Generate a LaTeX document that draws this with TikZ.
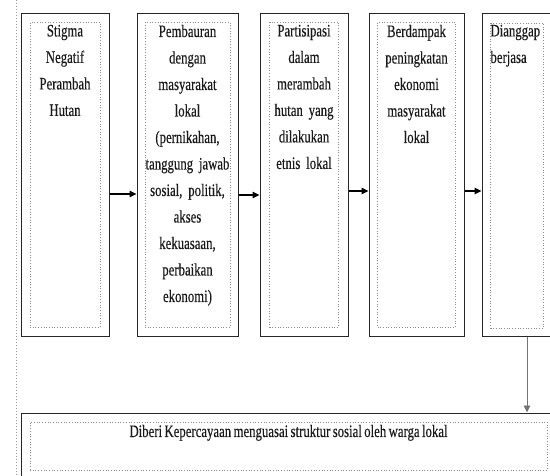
\documentclass[tikz,border=0pt]{standalone}
\usepackage{fontspec}
\setmainfont[FakeStretch=0.73,WordSpace=0.75,FakeBold=0.3]{Liberation Serif}
\usetikzlibrary{arrows.meta,positioning}

\begin{document}
\begin{tikzpicture}
  [x=1pt,y=-1pt,
   outerN/.style={rectangle,draw=black!85,line width=1pt,inner sep=0pt,minimum height=323pt},
   innerN/.style={rectangle,draw=black!45,dotted,line width=0.7pt,inner sep=0pt,minimum height=305pt},
   textN/.style={inner sep=0pt,anchor=north,align=center,text=black!90,font=\fontsize{17.5}{26.5}\selectfont},
   arr/.style={line width=1.1pt,-{Triangle[length=7pt,width=6.5pt]}}]

  \useasboundingbox (0,0) rectangle (550,475);
  \draw [black!40,dotted,line width=1pt] (16,0) -- (16,475);

  % five boxes in a row
  \node[outerN,minimum width=88pt] (b1) at (65,174.5) {};
  \node[outerN,minimum width=101pt] (b2) [right=27pt of b1] {};
  \node[outerN,minimum width=88pt] (b3) [right=21pt of b2] {};
  \node[outerN,minimum width=95pt] (b4) [right=20pt of b3] {};
  \node[outerN,minimum width=70pt] (b5) [right=17pt of b4] {};

  \node[innerN,minimum width=70pt] (b1i) at (b1.center) {};
  \node[innerN,minimum width=85pt] (b2i) at (b2.center) {};
  \node[innerN,minimum width=69pt] (b3i) at (b3.center) {};
  \node[innerN,minimum width=78pt] (b4i) at (b4.center) {};
  \node[innerN,minimum width=53pt] (b5i) at ([yshift=-1pt]b5.center) {};

  \node[textN,text width=70pt] (t1) at ([yshift=-3pt]b1i.north)
    {Stigma\\ Negatif\\ Perambah\\ Hutan};
  \node[textN,text width=85pt] (t2) at ([yshift=-3pt]b2i.north)
    {Pembauran\\ dengan\\ masyarakat\\ lokal\\ (pernikahan,\\ tanggung jawab\\ sosial, politik,\\ akses\\ kekuasaan,\\ perbaikan\\ ekonomi)};
  \node[textN,text width=69pt] (t3) at ([yshift=-3pt]b3i.north)
    {Partisipasi\\ dalam\\ merambah\\ hutan yang\\ dilakukan\\ etnis lokal};
  \node[textN,text width=78pt] (t4) at ([yshift=-3pt]b4i.north)
    {Berdampak\\ peningkatan\\ ekonomi\\ masyarakat\\ lokal};
  \node[textN,text width=53pt,align=left] (t5) at ([yshift=-2pt]b5i.north)
    {Dianggap\\ berjasa};

  % bottom box
  \node[outerN,minimum width=539pt,minimum height=77pt] (b6) at (290.5,451.5) {};
  \node[innerN,minimum width=517pt,minimum height=48pt] (b6i) at (288.5,446) {};
  \node[textN] (t6) at ([yshift=-3pt]b6i.north)
    {Diberi Kepercayaan menguasai struktur sosial oleh warga lokal};

  \draw [arr] ([yshift=-19.5pt]b1.east) -- ([yshift=-19.5pt]b2.west);
  \draw [arr] ([yshift=-20.5pt]b2.east) -- ([yshift=-20.5pt]b3.west);
  \draw [arr] ([yshift=-16.5pt]b3.east) -- ([yshift=-16.5pt]b4.west);
  \draw [arr] ([yshift=-16.5pt]b4.east) -- ([yshift=-16.5pt]b5.west);
  \draw [arr,draw=black!55,line width=0.9pt] ([xshift=10pt]b5.south) -- ([xshift=10pt]b5.south |- b6.north);

\end{tikzpicture}
\end{document}
